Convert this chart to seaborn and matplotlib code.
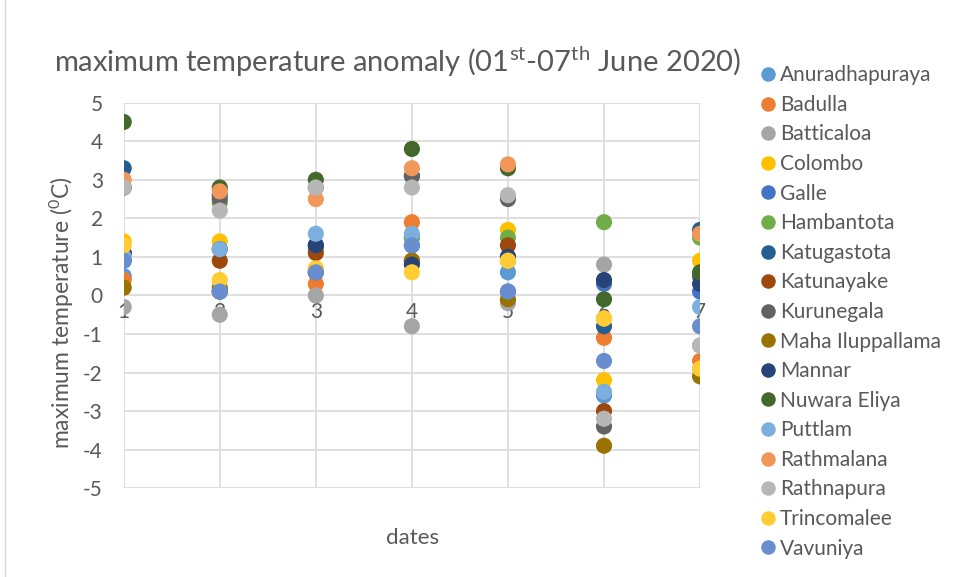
import matplotlib
matplotlib.use("Agg")
import matplotlib.pyplot as plt
import seaborn as sns
import pandas as pd

dates = [1, 2, 3, 4, 5, 6, 7]

stations = ["Anuradhapuraya", "Badulla", "Batticaloa", "Colombo", "Galle", "Hambantota",
            "Katugastota", "Katunayake", "Kurunegala", "Maha Iluppallama", "Mannar",
            "Nuwara Eliya", "Puttlam", "Rathmalana", "Rathnapura", "Trincomalee", "Vavuniya"]

anuradhapuraya = [0.5, 0.1, 0.6, 1.5, 0.6, -2.6, -1.9]
badulla = [0.4, 0.1, 0.3, 1.9, 0.9, -1.1, -1.7]
batticaloa = [-0.3, -0.5, 0.0, -0.8, -0.2, 0.8, -1.3]
colombo = [1.4, 1.4, 0.7, 0.9, 1.7, -2.2, 0.9]
galle = [0.9, 0.1, 0.6, 1.3, 0.1, 0.3, 0.1]
hambantota = [2.8, 2.4, 1.2, 1.5, 1.5, 1.9, 1.5]
katugastota = [3.3, 2.6, 1.3, 3.1, 1.0, -0.8, 1.7]
katunayake = [1.1, 0.9, 1.1, 0.9, 1.3, -3.0, 0.5]
kurunegala = [2.8, 2.5, 2.8, 3.1, 2.5, -3.4, 0.5]
maha_iluppallama = [0.2, 0.2, 0.6, 0.9, -0.1, -3.9, -2.1]
mannar = [1.1, 1.2, 1.3, 0.8, 1.0, 0.4, 0.3]
nuwara_eliya = [4.5, 2.8, 3.0, 3.8, 3.3, -0.1, 0.6]
puttlam = [1.0, 1.2, 1.6, 1.6, 0.9, -2.5, -0.3]
rathmalana = [3.0, 2.7, 2.5, 3.3, 3.4, -0.6, 1.6]
rathnapura = [2.8, 2.2, 2.8, 2.8, 2.6, -3.2, -1.3]
trincomalee = [1.3, 0.4, 0.7, 0.6, 0.9, -0.6, -1.9]
vavuniya = [0.9, 0.1, 0.6, 1.3, 0.1, -1.7, -0.8]

series = [anuradhapuraya, badulla, batticaloa, colombo, galle, hambantota, katugastota,
          katunayake, kurunegala, maha_iluppallama, mannar, nuwara_eliya, puttlam,
          rathmalana, rathnapura, trincomalee, vavuniya]

colors = ["#5B9BD5", "#ED7D31", "#A5A5A5", "#FFC000", "#4472C4", "#70AD47", "#255E91",
          "#9E480E", "#636363", "#997300", "#264478", "#43682B", "#7CAFDD", "#F1975A",
          "#B7B7B7", "#FFCD33", "#698ED0"]

rows = []
for name, vals in zip(stations, series):
    for d, v in zip(dates, vals):
        rows.append({"station": name, "date": d, "anomaly": v})
df = pd.DataFrame(rows)

sns.set_theme(style="white")
plt.rcParams["font.family"] = ["Lato", "DejaVu Sans"]
plt.rcParams["mathtext.fontset"] = "custom"
plt.rcParams["mathtext.rm"] = "Lato"
plt.rcParams["mathtext.it"] = "Lato"
plt.rcParams["axes.unicode_minus"] = False
txt = "#595959"

fig = plt.figure(figsize=(9.59, 5.77), dpi=100)
ax = fig.add_axes([0.129, 0.154, 0.601, 0.668])

sns.scatterplot(data=df, x="date", y="anomaly", hue="station", hue_order=stations,
                palette=colors, s=135, linewidth=0, alpha=1, ax=ax, legend=True, zorder=3)

ax.set_xlim(1, 7)
ax.set_ylim(-5, 5)
ax.set_xticks(dates)
ax.set_yticks(range(-5, 6))
ax.grid(True, color="#D9D9D9", linewidth=1.2, zorder=0)
for sp in ax.spines.values():
    sp.set_visible(False)
ax.spines["bottom"].set_position(("data", 0))
ax.tick_params(axis="both", length=0, labelsize=15, labelcolor=txt)
ax.tick_params(axis="x", pad=5)
ax.tick_params(axis="y", pad=15)
ax.set_xlabel("")
ax.set_ylabel("")
fig.text(0.065, 1 - 313 / 577, r"maximum temperature ($^{0}$C)", fontsize=16.5, color=txt,
         ha="center", va="center", rotation=90)
fig.text(0.43, 1 - 538 / 577, "dates", fontsize=16, color=txt, ha="center", va="center")

fig.text(0.415, 1 - 62 / 577, r"maximum temperature anomaly (01$^{\mathrm{st}}$-07$^{\mathrm{th}}$ June 2020)",
         fontsize=21, color=txt, ha="center", va="center")

leg = ax.legend(loc="upper left", bbox_to_anchor=(0.781, 1 - 57 / 577), bbox_transform=fig.transFigure,
                frameon=False, fontsize=15, labelspacing=0.46, handletextpad=0.1,
                markerscale=0.9, borderaxespad=0, handlelength=1.0)
for t in leg.get_texts():
    t.set_color(txt)

# faint chart border like the source
fig.add_artist(plt.Line2D([0.005, 0.005], [0, 1], color="#D9D9D9", linewidth=1))

fig.savefig("out.png", dpi=100)
